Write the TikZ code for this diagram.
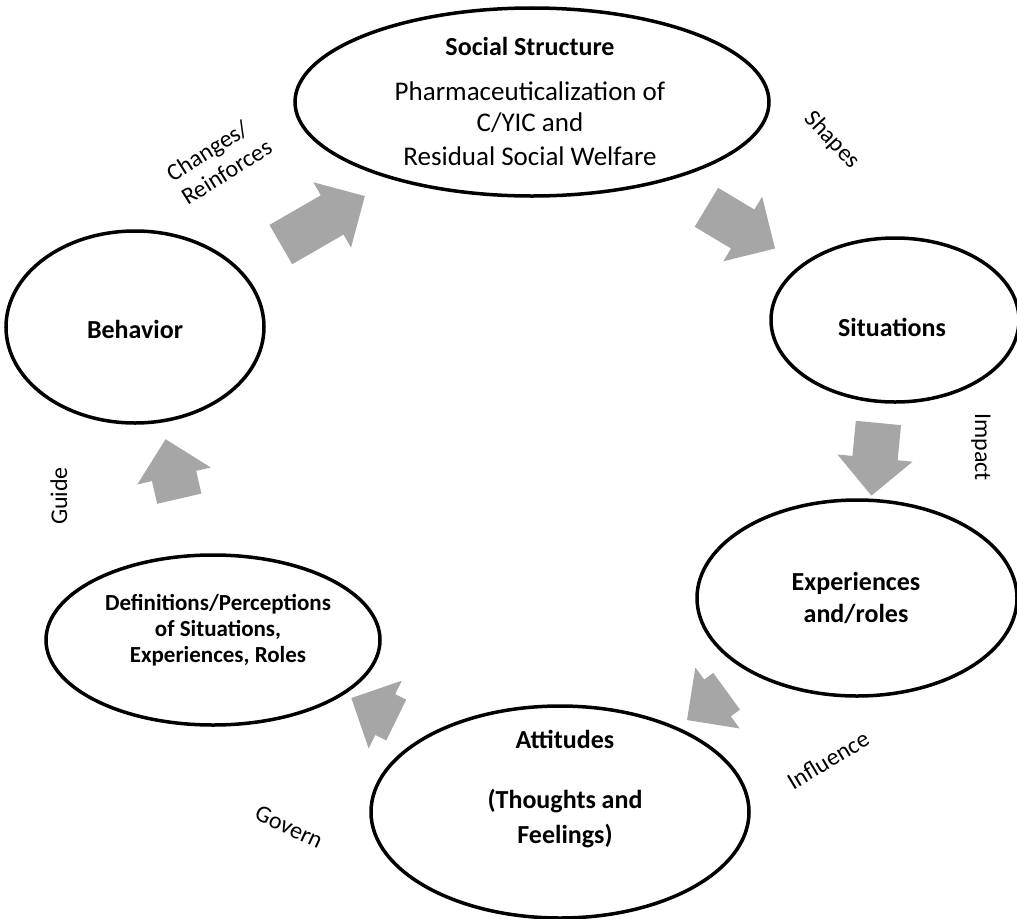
\documentclass[tikz,border=0pt]{standalone}
\usepackage{fontspec}
\setmainfont{Carlito}
\usetikzlibrary{shapes.geometric,shapes.arrows}
\definecolor{arrowgray}{HTML}{A6A6A6}
\begin{document}
\begin{tikzpicture}[x=1bp,y=-1bp,
  ell/.style={draw=black,line width=3.5bp,ellipse,inner sep=0pt,fill=white},
  blk/.style={single arrow,fill=arrowgray,draw=none,inner xsep=0pt,inner ysep=22.5bp,
    single arrow head extend=15bp,single arrow tip angle=90,minimum width=75bp},
  big/.style={font=\fontsize{27bp}{32bp}\selectfont,anchor=base,inner sep=0pt},
  bigb/.style={font=\bfseries\fontsize{26bp}{31bp}\selectfont,anchor=base,inner sep=0pt},
  defb/.style={font=\bfseries\fontsize{23bp}{27bp}\selectfont,anchor=base,inner sep=0pt},
  lbl/.style={font=\fontsize{24bp}{28bp}\selectfont,inner sep=0pt}]
\useasboundingbox (0,0) rectangle (1017,919);
\fill[white] (0,0) rectangle (1017,919);

% ellipses
\node[ell,minimum width=474bp,minimum height=188bp] (ss) at (532,102) {};
\node[ell,minimum width=248bp,minimum height=164bp] (sit) at (895,320) {};
\node[ell,minimum width=320bp,minimum height=196bp] (exp) at (857,598) {};
\node[ell,minimum width=378bp,minimum height=212bp] (att) at (560,812) {};
\node[ell,minimum width=334bp,minimum height=170bp] (def) at (213,640) {};
\node[ell,minimum width=258bp,minimum height=192bp] (beh) at (135,327) {};

% texts
\node[bigb] (sst1) at (530,55) {Social Structure};
\node[big] (sst2) at (530,100) {Pharmaceuticalization of};
\node[big] (sst3) at (530,131) {C/YIC and};
\node[big] (sst4) at (530,165) {Residual Social Welfare};
\node[bigb] (sitt) at (892,336) {Situations};
\node[bigb] (expt1) at (856,590) {Experiences};
\node[bigb] (expt2) at (856,622) {and/roles};
\node[bigb] (attt1) at (565,748) {Attitudes};
\node[bigb] (attt2) at (565,808) {(Thoughts and};
\node[bigb] (attt3) at (565,843) {Feelings)};
\node[defb] (deft1) at (218,610) {Definitions/Perceptions};
\node[defb] (deft2) at (218,636) {of Situations,};
\node[defb] (deft3) at (218,662) {Experiences, Roles};
\node[bigb] (beht) at (135,338) {Behavior};

% block arrows
\node[blk,minimum height=97bp,rotate=30] (a1) at (313,226) {};
\node[blk,minimum height=80bp,rotate=-31] (a2) at (731,222) {};
\node[blk,minimum height=73bp,rotate=-95.5] (a3) at (876,448) {};
\node[blk,minimum height=49bp,rotate=216] (a4) at (716,699) {};
\node[blk,minimum height=50bp,rotate=154] (a5) at (384,714) {};
\node[blk,minimum height=61bp,rotate=103] (a6) at (175,480) {};

% labels
\node[lbl,align=left,rotate=32] (l1) at (219,160) {Changes/\\Reinforces};
\node[lbl,rotate=-47] (l2) at (832,140) {Shapes};
\node[lbl,rotate=-90] (l3) at (981,447) {Impact};
\node[lbl,rotate=31] (l4) at (828,760) {Influence};
\node[lbl,rotate=-25] (l5) at (289,827) {Govern};
\node[lbl,rotate=90] (l6) at (59,496) {Guide};
\end{tikzpicture}
\end{document}
